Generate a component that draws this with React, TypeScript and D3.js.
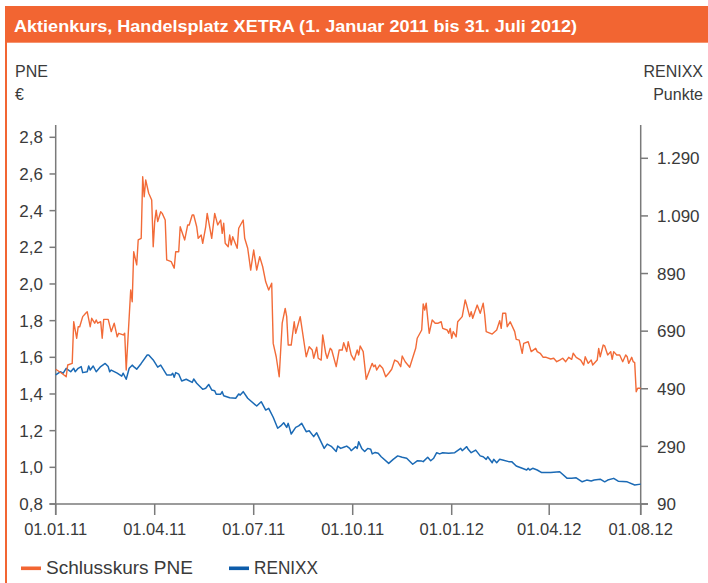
import React from 'react';
import * as d3 from 'd3';

// X axis: trading-day index, tick labels at given indices
const xTickDays = [0, 66, 132, 198, 264, 329, 390];
const xTickLabels = ['01.01.11', '01.04.11', '01.07.11', '01.10.11', '01.01.12', '01.04.12', '01.08.12'];
const pneTicks = [0.8, 1.0, 1.2, 1.4, 1.6, 1.8, 2.0, 2.2, 2.4, 2.6, 2.8];
const renixxTicks = [90, 290, 490, 690, 890, 1090, 1290];

const title = 'Aktienkurs, Handelsplatz XETRA (1. Januar 2011 bis 31. Juli 2012)';
const seriesNames = ['Schlusskurs PNE', 'RENIXX'];

// Schlusskurs PNE (EUR)
const pneDay = [0,4,7,8,11,12,14,15,16,18,20,21,23,24,26,27,28,30,31,32,35,37,39,41,42,45,46,47,50,51,52,54,55,57,58,59,60,62,64,65,66,67,68,70,71,73,74,77,79,80,82,83,86,88,89,91,92,94,95,97,98,100,101,104,106,108,110,111,112,113,115,116,117,118,121,122,125,126,128,130,132,134,136,138,140,142,144,145,147,149,151,153,154,155,157,159,160,163,167,169,171,172,174,175,177,178,180,181,183,184,187,189,191,192,194,195,197,199,201,202,203,205,207,211,212,213,214,216,218,220,222,224,226,228,230,231,233,236,240,241,244,245,246,247,249,251,253,255,257,258,261,262,263,264,265,267,268,271,273,274,276,277,278,281,283,284,285,286,287,291,294,296,297,298,300,301,303,306,307,309,311,312,315,317,320,321,323,325,327,330,332,334,336,338,340,342,344,345,347,350,352,353,355,357,358,361,362,363,365,366,368,370,371,372,374,376,378,380,381,382,384,385,386,387,388,390];
const pneClose = [1.535,1.513,1.494,1.558,1.567,1.794,1.704,1.767,1.767,1.822,1.840,1.849,1.767,1.813,1.786,1.804,1.786,1.794,1.704,1.807,1.807,1.740,1.786,1.712,1.731,1.722,1.731,1.531,1.967,1.903,2.176,2.104,2.240,2.249,2.585,2.476,2.567,2.495,2.458,2.203,2.340,2.403,2.340,2.394,2.385,2.349,2.131,2.122,2.086,2.176,2.176,2.312,2.240,2.322,2.322,2.376,2.376,2.312,2.249,2.267,2.222,2.312,2.385,2.249,2.385,2.322,2.349,2.276,2.331,2.222,2.203,2.267,2.213,2.258,2.195,2.304,2.349,2.249,2.195,2.076,2.185,2.076,2.149,2.094,2.012,1.967,2.004,1.676,1.603,1.494,1.786,1.867,1.822,1.667,1.667,1.794,1.731,1.822,1.603,1.658,1.640,1.595,1.655,1.595,1.585,1.722,1.622,1.595,1.649,1.640,1.549,1.640,1.640,1.680,1.631,1.685,1.613,1.585,1.640,1.613,1.662,1.631,1.480,1.567,1.549,1.558,1.531,1.558,1.540,1.494,1.513,1.535,1.585,1.576,1.549,1.607,1.576,1.546,1.649,1.704,1.749,1.891,1.858,1.895,1.731,1.804,1.786,1.786,1.794,1.758,1.749,1.731,1.758,1.704,1.740,1.712,1.794,1.822,1.913,1.885,1.822,1.849,1.813,1.885,1.840,1.867,1.895,1.831,1.740,1.727,1.749,1.800,1.758,1.840,1.840,1.767,1.794,1.740,1.698,1.694,1.622,1.676,1.685,1.631,1.649,1.631,1.622,1.600,1.600,1.591,1.595,1.576,1.585,1.595,1.576,1.600,1.589,1.622,1.600,1.585,1.558,1.603,1.567,1.585,1.558,1.585,1.649,1.603,1.667,1.662,1.613,1.631,1.589,1.631,1.613,1.613,1.576,1.613,1.603,1.567,1.600,1.576,1.571,1.412,1.431,1.431];

// RENIXX (Punkte)
const renixxDay = [0,3,5,7,10,12,13,15,17,18,21,22,23,25,27,30,33,35,36,37,41,44,45,47,49,51,52,54,57,61,62,65,68,70,74,77,78,79,80,82,84,87,91,92,94,98,100,102,104,106,107,110,111,112,116,120,122,123,125,128,134,137,140,142,145,148,150,152,154,155,157,160,162,164,167,169,172,174,179,181,184,187,188,190,192,194,196,197,200,201,202,204,206,208,210,211,213,215,217,222,225,228,231,234,238,241,244,245,248,250,252,254,256,258,262,266,270,271,274,275,277,280,283,285,287,288,291,292,294,296,298,302,304,307,311,314,315,316,318,321,324,330,336,341,344,347,351,354,357,359,363,366,368,372,375,381,386,390];
const renixxPoints = [538,549,544,561,549,561,549,561,567,546,549,569,555,569,549,567,578,567,549,555,544,534,544,523,561,572,567,558,578,607,607,590,565,572,538,538,544,530,546,541,517,523,512,524,509,488,492,505,486,483,471,471,480,466,459,457,472,468,480,457,430,445,416,422,391,353,361,372,356,370,333,356,361,370,341,344,324,337,283,298,289,272,291,283,287,291,283,275,289,283,306,283,272,283,280,264,269,266,254,231,245,257,252,249,228,240,239,237,252,240,249,268,264,268,266,268,283,275,289,280,268,277,257,254,245,254,233,245,233,245,243,237,237,222,214,208,214,208,214,208,199,199,202,179,179,181,167,173,170,173,176,167,173,179,169,167,156,159];

const ORANGE = '#F26532';
const LINE_ORANGE = '#F26B38';
const BLUE = '#1B6AB5';
const LEGEND_BLUE = '#0D5CAA';
const AXIS = '#7a7a7a';
const TEXT = '#3a3a3a';
const FONT = "'Liberation Sans', Arial, sans-serif";

const deLocale = d3.formatLocale({ decimal: ',', thousands: '.', grouping: [3], currency: ['', ' €'] });
const fmtLeft = deLocale.format('.1f');
const fmtRight = deLocale.format(',');

export default function App() {
  const W = 708, H = 583;
  const left = 55.7, right = 640.7, bottom = 504, top = 125;

  const x = d3.scaleLinear().domain([0, 390]).range([left, right]);
  const yL = d3.scaleLinear().domain([0.8, 2.8]).range([bottom, 137.3]);
  const yR = d3.scaleLinear().domain([90, 1290]).range([bottom, 158.3]);

  const pne = pneDay.map((d, i) => [d, pneClose[i]] as [number, number]);
  const ren = renixxDay.map((d, i) => [d, renixxPoints[i]] as [number, number]);

  const linePne = d3.line<[number, number]>().x(d => x(d[0])).y(d => yL(d[1]));
  const lineRen = d3.line<[number, number]>().x(d => x(d[0])).y(d => yR(d[1]));

  return (
    <svg width={W} height={H} style={{ position: 'absolute', left: 0, top: 0, background: '#fff' }} fontFamily={FONT}>
      <rect x={0} y={0} width={W} height={H} fill="#fff" />
      {/* title bar */}
      <rect x={5} y={6} width={W - 5} height={36.7} fill={ORANGE} />
      <line x1={6} x2={6} y1={42} y2={H} stroke={ORANGE} strokeWidth={2} />
      <text x={14} y={32.3} fill="#fff" fontWeight="bold" fontSize={16.5} textLength={563} lengthAdjust="spacingAndGlyphs">{title}</text>

      {/* axis titles */}
      <text x={15} y={77.3} fill={TEXT} fontSize={16}>PNE</text>
      <text x={15} y={100} fill={TEXT} fontSize={16}>€</text>
      <text x={703} y={77.3} fill={TEXT} fontSize={16} textAnchor="end">RENIXX</text>
      <text x={703} y={100} fill={TEXT} fontSize={16} textAnchor="end">Punkte</text>

      {/* axes */}
      <line x1={left} x2={left} y1={top} y2={515} stroke={AXIS} strokeWidth={1.5} />
      <line x1={right} x2={right} y1={top} y2={515} stroke={AXIS} strokeWidth={1.5} />
      <line x1={49.5} x2={648} y1={bottom} y2={bottom} stroke={AXIS} strokeWidth={1.5} />

      {pneTicks.map(t => (
        <g key={'l' + t}>
          <line x1={49.5} x2={left} y1={yL(t)} y2={yL(t)} stroke={AXIS} strokeWidth={1.5} />
          <text x={43} y={yL(t)} dy="0.36em" textAnchor="end" fill={TEXT} fontSize={17}>{fmtLeft(t)}</text>
        </g>
      ))}
      {renixxTicks.map(t => (
        <g key={'r' + t}>
          <line x1={right} x2={648} y1={yR(t)} y2={yR(t)} stroke={AXIS} strokeWidth={1.5} />
          <text x={657} y={yR(t)} dy="0.36em" textAnchor="start" fill={TEXT} fontSize={17}>{fmtRight(t)}</text>
        </g>
      ))}
      {xTickDays.map((d, i) => (
        <g key={'x' + d}>
          <line x1={x(d)} x2={x(d)} y1={bottom} y2={515} stroke={AXIS} strokeWidth={1.5} />
          <text x={x(d)} y={535.3} textAnchor="middle" fill={TEXT} fontSize={16.5}>{xTickLabels[i]}</text>
        </g>
      ))}

      {/* series */}
      <path d={lineRen(ren) || ''} fill="none" stroke={BLUE} strokeWidth={1.5} strokeLinejoin="round" />
      <path d={linePne(pne) || ''} fill="none" stroke={LINE_ORANGE} strokeWidth={1.4} strokeLinejoin="round" />

      {/* legend */}
      <rect x={21} y={566.5} width={20} height={3.6} fill={ORANGE} />
      <text x={46} y={574} fill={TEXT} fontSize={18.5} textLength={147} lengthAdjust="spacingAndGlyphs">{seriesNames[0]}</text>
      <rect x={229} y={566.5} width={20} height={3.6} fill={LEGEND_BLUE} />
      <text x={254} y={574} fill={TEXT} fontSize={18.5} textLength={64} lengthAdjust="spacingAndGlyphs">{seriesNames[1]}</text>
    </svg>
  );
}
